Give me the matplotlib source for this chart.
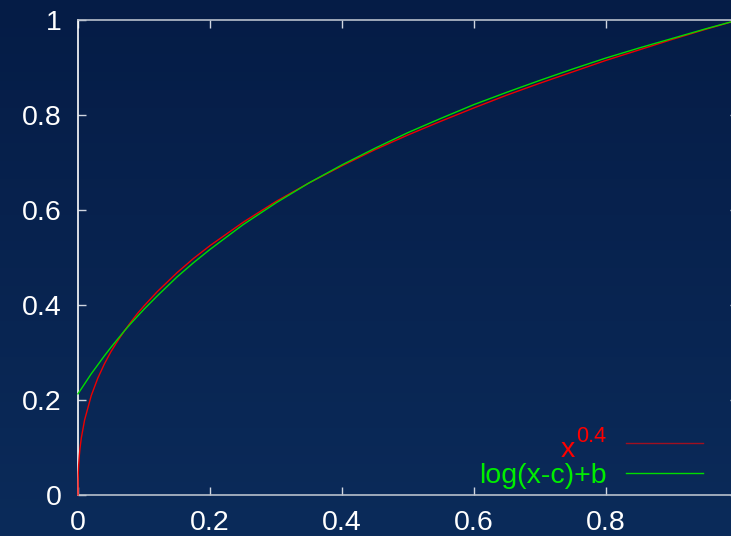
import numpy as np
import matplotlib
matplotlib.use("Agg")
import matplotlib.pyplot as plt
from matplotlib.colors import LinearSegmentedColormap

# Data
x_red = [0, 0.0002, 0.0005, 0.001, 0.002, 0.003, 0.005, 0.01, 0.02, 0.03, 0.04, 0.05, 0.06,
         0.07, 0.08, 0.09, 0.1, 0.12, 0.15, 0.175, 0.2, 0.25, 0.3, 0.35, 0.4, 0.45, 0.5,
         0.55, 0.6, 0.65, 0.7, 0.75, 0.8, 0.85, 0.9, 0.95, 1.0]
y_red = [0, 0.033, 0.048, 0.063, 0.083, 0.098, 0.12, 0.158, 0.209, 0.246, 0.276, 0.302,
         0.324, 0.345, 0.364, 0.382, 0.398, 0.428, 0.468, 0.498, 0.525, 0.574, 0.618,
         0.657, 0.693, 0.727, 0.758, 0.787, 0.815, 0.842, 0.867, 0.891, 0.915, 0.937,
         0.959, 0.980, 1.0]
x_green = [0, 0.01, 0.02, 0.03, 0.04, 0.05, 0.06, 0.07, 0.08, 0.1, 0.12, 0.15, 0.175, 0.2,
           0.25, 0.3, 0.35, 0.4, 0.45, 0.5, 0.55, 0.6, 0.65, 0.7, 0.75, 0.8, 0.85, 0.9,
           0.95, 1.0]
y_green = [0.213, 0.234, 0.255, 0.274, 0.293, 0.311, 0.328, 0.345, 0.361, 0.391, 0.419,
           0.459, 0.489, 0.517, 0.569, 0.615, 0.657, 0.695, 0.730, 0.763, 0.793, 0.822,
           0.848, 0.873, 0.897, 0.920, 0.941, 0.961, 0.981, 1.0]
xticks = [0, 0.2, 0.4, 0.6, 0.8]
xtick_labels = ["0", "0.2", "0.4", "0.6", "0.8"]
yticks = [0, 0.2, 0.4, 0.6, 0.8, 1.0]
ytick_labels = ["0", "0.2", "0.4", "0.6", "0.8", "1"]
red_label_base, red_label_exp = "x", "0.4"
green_label = "log(x-c)+b"

plt.rcParams['font.family'] = ['Liberation Sans', 'DejaVu Sans']

W, H = 731, 536
fig = plt.figure(figsize=(W / 100, H / 100), dpi=100)

# background gradient
bg = fig.add_axes([0, 0, 1, 1])
cmap = LinearSegmentedColormap.from_list("bg", ["#051c46", "#0b2b5a"])
bg.imshow(np.linspace(0, 1, 256).reshape(-1, 1), aspect='auto', cmap=cmap,
          extent=[0, 1, 0, 1], origin='upper')
bg.set_axis_off()

left, right, top, bottom = 78, 738, 20, 495
ax = fig.add_axes([left / W, (H - bottom) / H, (right - left) / W, (bottom - top) / H])
ax.patch.set_alpha(0)
ax.set_xlim(0, 1)
ax.set_ylim(0, 1)

ax.plot(x_red, y_red, color='#ee0000', lw=1.0, zorder=3, clip_on=False)
ax.plot(x_green, y_green, color='#00dd00', lw=1.0, zorder=3, clip_on=False)

for s in ['top', 'bottom', 'right']:
    ax.spines[s].set_color('#b8c0cc')
    ax.spines[s].set_linewidth(1.2)
ax.spines['left'].set_color('white')
ax.spines['left'].set_linewidth(1.2)

ax.set_xticks(xticks)
ax.set_xticklabels(xtick_labels)
ax.set_yticks(yticks)
ax.set_yticklabels(ytick_labels)
ax.tick_params(direction='in', length=6, width=1, color='#d0d6e0', labelcolor='white',
               labelsize=20.5, top=True, right=True)
ax.tick_params(axis='x', pad=11)
ax.tick_params(axis='y', pad=12)

# legend drawn manually in gnuplot style (pixel placement)
def fx(px):
    return px / W

def fy(py):
    return (H - py) / H

fig.add_artist(plt.Line2D([fx(626), fx(703)], [fy(443), fy(443)], color='#a01020', lw=1.0))
fig.add_artist(plt.Line2D([fx(626), fx(703)], [fy(473), fy(473)], color='#00dd00', lw=1.0))
fig.text(fx(575), fy(457), red_label_base, color='#ff0000', fontsize=20.5,
         ha='right', va='baseline')
fig.text(fx(576), fy(442), red_label_exp, color='#ff0000', fontsize=15.5,
         ha='left', va='baseline')
fig.text(fx(607), fy(483), green_label, color='#00ee00', fontsize=20.5,
         ha='right', va='baseline')

fig.savefig("out.png", dpi=100)
